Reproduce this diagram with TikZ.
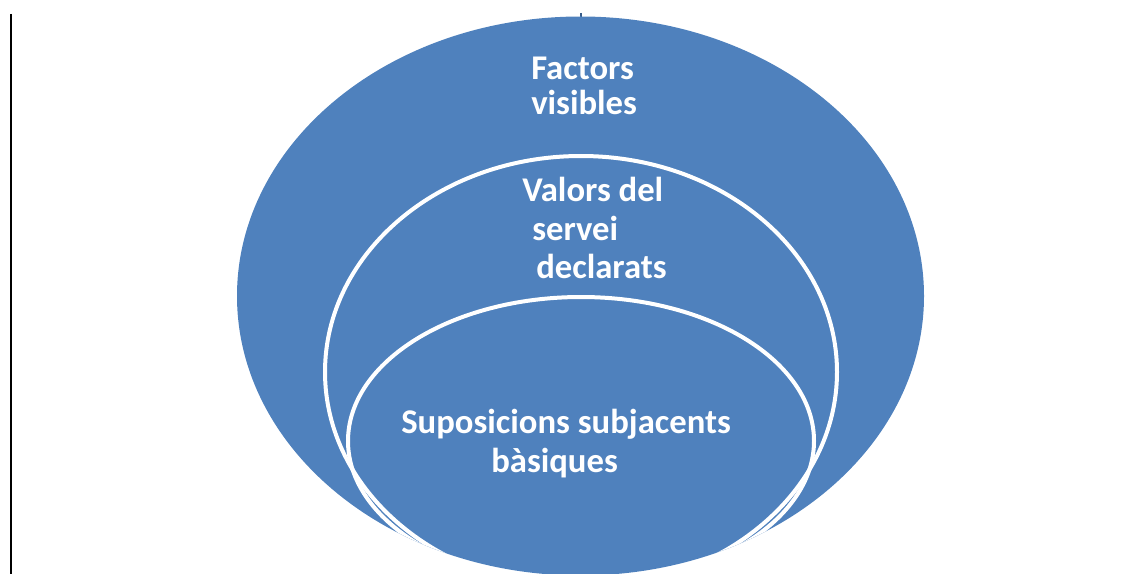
\documentclass[tikz,border=0pt]{standalone}
\usepackage{fontspec}
\setmainfont{Carlito}
\usetikzlibrary{shapes.geometric}
\definecolor{ovalblue}{HTML}{4F81BD}
\definecolor{tickblue}{HTML}{385D8A}
\begin{document}
\begin{tikzpicture}[x=0.75pt,y=-0.75pt,
    ring/.style={ellipse, draw=white, line width=3pt, inner sep=0pt},
    lbl/.style={anchor=base west, inner sep=0pt, text=white,
      font=\fontsize{26}{30}\selectfont\bfseries}]
  \useasboundingbox (0,0) rectangle (1139,574);
  % rule on the left and small tick at the top
  \coordinate (ruletop) at (11,14);
  \coordinate (rulebot) at (11,574);
  \draw[line width=1.5pt] (ruletop) -- (rulebot);
  \coordinate (ticktop) at (581,13);
  \coordinate (tickbot) at (581,18);
  \draw[tickblue, line width=1pt] (ticktop) -- (tickbot);

  % the three ovals
  \node (outer) [ellipse, fill=ovalblue, inner sep=0pt,
    minimum width=515.25pt, minimum height=419.25pt] at (580.5,296) {};
  \begin{scope}
    \clip (outer.center) ellipse [x radius=257.625pt, y radius=209.625pt];
    \node (middle) [ring, minimum width=384pt, minimum height=324pt] at (581,372) {};
    \node (inner) [ring, minimum width=349.5pt, minimum height=216pt] at (581,441) {};
  \end{scope}

  % labels
  \node (fac1) [lbl] at (531,80) {Factors};
  \node (fac2) [lbl] at (531,115) {visibles};
  \node (val1) [lbl] at (522,202) {Valors del};
  \node (val2) [lbl] at (532,240) {servei};
  \node (val3) [lbl] at (536,278) {declarats};
  \node (sup1) [lbl] at (401,433) {Suposicions subjacents};
  \node (sup2) [lbl] at (491,472) {bàsiques};
\end{tikzpicture}
\end{document}
